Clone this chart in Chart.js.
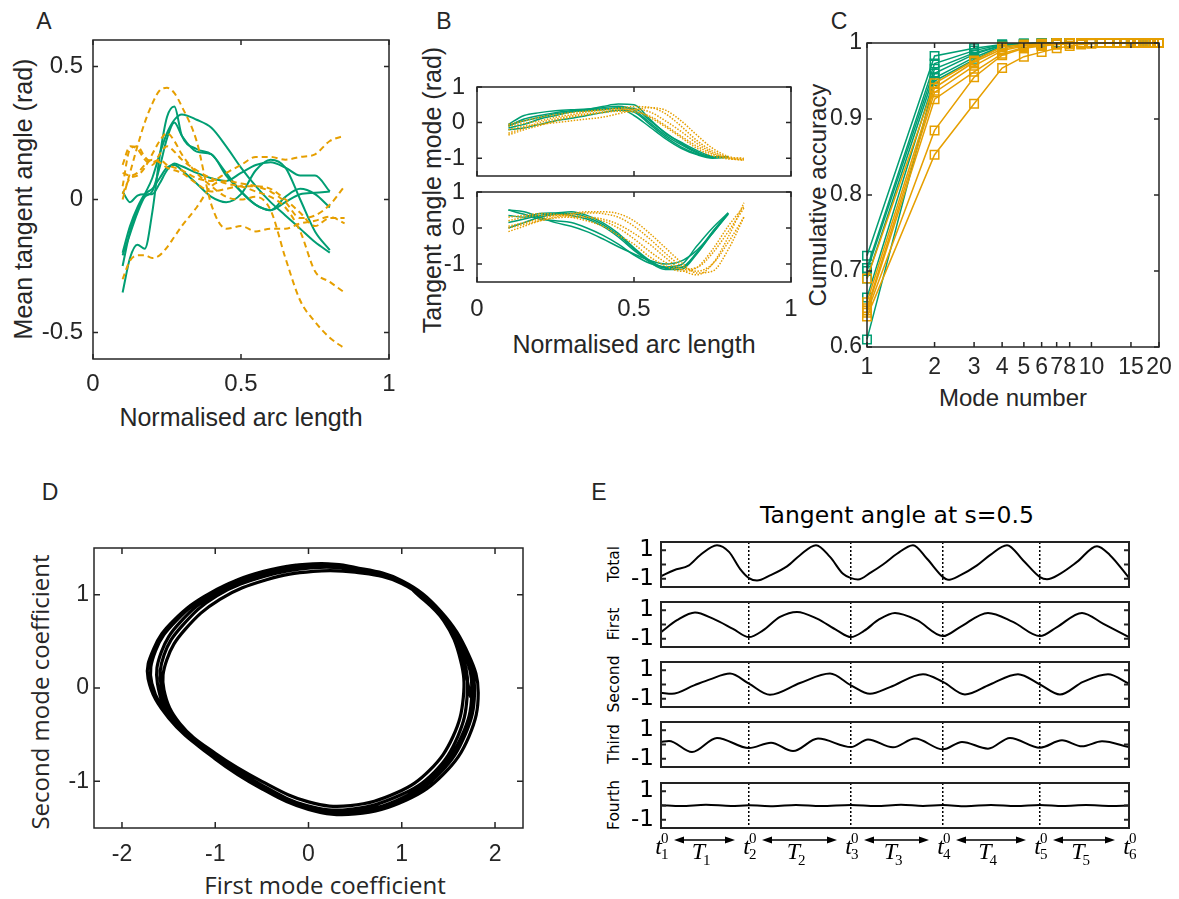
<!DOCTYPE html>
<html>
<head>
<meta charset="utf-8">
<script src="https://cdn.jsdelivr.net/npm/chart.js@4.4.1/dist/chart.umd.min.js"></script>
<style>
body{margin:0;background:#fff;width:1179px;height:899px;position:relative;overflow:hidden;font-family:'Liberation Sans',Arial,sans-serif;color:#262626}
canvas{position:absolute}
.t{position:absolute;white-space:nowrap;line-height:1;transform:translate(-50%,-50%)}
.v{transform:translate(-50%,-50%) rotate(-90deg)}
.dj{font-family:'DejaVu Sans',sans-serif;color:#000}
.os{font-family:'Open Sans',sans-serif}
</style>
</head>
<body>
<div class="t" style="left:44px;top:21px;font-size:23px">A</div>
<div class="t" style="left:444px;top:21px;font-size:23px">B</div>
<div class="t" style="left:839px;top:21px;font-size:23px">C</div>
<div class="t" style="left:50px;top:492px;font-size:23px">D</div>
<div class="t" style="left:599px;top:492px;font-size:23px">E</div>

<div class="t" style="left:241px;top:417px;font-size:25px">Normalised arc length</div>
<div class="t v" style="left:23px;top:199px;font-size:25px">Mean tangent angle (rad)</div>
<div class="t" style="left:634px;top:344px;font-size:25px">Normalised arc length</div>
<div class="t v" style="left:432px;top:190px;font-size:25px">Tangent angle mode (rad)</div>
<div class="t" style="left:1013px;top:398px;font-size:24px">Mode number</div>
<div class="t v" style="left:818px;top:195px;font-size:24px">Cumulative accuracy</div>
<div class="t os" style="left:325px;top:885px;font-size:24px">First mode coefficient</div>
<div class="t v os" style="left:40px;top:692px;font-size:24px">Second mode coefficient</div>

<div class="t dj" style="left:897px;top:516px;font-size:23.5px">Tangent angle at s=0.5</div>
<div class="t v dj" style="left:615px;top:564px;font-size:15.5px">Total</div>
<div class="t v dj" style="left:615px;top:624px;font-size:15.5px">First</div>
<div class="t v dj" style="left:615px;top:684px;font-size:15.5px">Second</div>
<div class="t v dj" style="left:615px;top:744px;font-size:15.5px">Third</div>
<div class="t v dj" style="left:615px;top:805px;font-size:15.5px">Fourth</div>

<canvas id="cA"></canvas>
<canvas id="cB1"></canvas>
<canvas id="cB2"></canvas>
<canvas id="cC"></canvas>
<canvas id="cD"></canvas>
<canvas id="cE1"></canvas>
<canvas id="cE2"></canvas>
<canvas id="cE3"></canvas>
<canvas id="cE4"></canvas>
<canvas id="cE5"></canvas>

<script>
/***** Data *****/
// A: mean tangent angle along the body
const aTealX = [0.10,0.125,0.15,0.175,0.20,0.225,0.25,0.275,0.30,0.35,0.40,0.45,0.50,0.55,0.60,0.65,0.70,0.75,0.80];
const aTeal = [
  [-0.35,-0.22,-0.17,-0.185,-0.05,0.16,0.31,0.35,0.24,0.19,0.17,0.10,0.03,-0.02,-0.04,-0.01,0.02,0.025,0.03],
  [-0.25,-0.12,-0.04,0.02,0.08,0.17,0.25,0.30,0.32,0.30,0.27,0.20,0.12,0.05,-0.01,-0.06,-0.11,-0.16,-0.20],
  [-0.21,-0.13,-0.05,0.01,0.03,0.12,0.23,0.29,0.24,0.18,0.17,0.09,0.03,-0.02,-0.04,0.01,0.04,0.02,-0.03],
  [0.03,-0.01,0.015,0.02,0.02,0.06,0.11,0.135,0.125,0.10,0.08,0.07,0.10,0.13,0.14,0.12,0.09,0.09,0.03],
  [-0.20,-0.10,-0.03,0.02,0.04,0.08,0.12,0.13,0.11,0.06,0.01,-0.01,0.02,0.11,0.15,0.12,0.00,-0.12,-0.19]
];
const aOrangeX = [0.10,0.125,0.15,0.175,0.20,0.225,0.25,0.275,0.30,0.35,0.40,0.45,0.50,0.55,0.60,0.65,0.70,0.75,0.80,0.85];
const aOrange = [
  [0.00,0.10,0.20,0.29,0.36,0.41,0.42,0.40,0.35,0.22,-0.02,-0.11,-0.10,-0.12,-0.11,-0.11,-0.09,-0.08,-0.065,-0.09],
  [0.05,0.19,0.20,0.16,0.14,0.15,0.13,0.12,0.11,0.08,0.07,0.10,0.13,0.16,0.16,0.15,0.16,0.17,0.22,0.24],
  [-0.30,-0.23,-0.21,-0.21,-0.22,-0.21,-0.18,-0.14,-0.10,-0.03,0.05,0.07,0.06,0.05,0.03,-0.01,-0.07,-0.06,-0.02,0.05],
  [0.02,0.08,0.09,0.12,0.17,0.22,0.25,0.22,0.17,0.10,0.05,0.01,0.00,0.01,-0.04,-0.22,-0.38,-0.46,-0.52,-0.56],
  [0.13,0.20,0.19,0.15,0.13,0.17,0.20,0.18,0.15,0.11,0.08,0.06,0.05,0.03,0.01,-0.03,-0.12,-0.27,-0.31,-0.35],
  [0.10,0.09,0.10,0.13,0.15,0.14,0.12,0.11,0.10,0.06,0.03,0.04,0.05,0.05,0.04,0.00,-0.05,-0.10,-0.07,-0.07]
];

// B: first and second tangent angle modes
const bTealX = [0.10,0.15,0.20,0.25,0.30,0.35,0.40,0.45,0.50,0.55,0.60,0.65,0.70,0.75,0.80];
const bOrangeX = [0.10,0.15,0.20,0.25,0.30,0.35,0.40,0.45,0.50,0.55,0.60,0.65,0.70,0.75,0.80,0.85];
const bMode1Teal = [
  [-0.05,0.20,0.28,0.33,0.36,0.38,0.42,0.46,0.35,0.00,-0.35,-0.62,-0.85,-0.97,-0.98],
  [-0.10,0.10,0.20,0.28,0.33,0.37,0.45,0.52,0.50,0.10,-0.30,-0.55,-0.78,-0.95,-0.97],
  [-0.20,-0.15,-0.05,0.05,0.12,0.20,0.28,0.35,0.30,-0.05,-0.40,-0.68,-0.88,-0.98,-0.95],
  [-0.08,0.05,0.15,0.25,0.30,0.35,0.38,0.40,0.20,-0.12,-0.45,-0.72,-0.90,-1.00,-0.97],
  [-0.15,-0.05,0.10,0.20,0.30,0.33,0.36,0.42,0.40,0.06,-0.28,-0.58,-0.82,-0.96,-0.96]
];
const bMode1Orange = [
  [-0.10,-0.02,0.05,0.15,0.22,0.30,0.35,0.40,0.45,0.43,0.25,-0.10,-0.50,-0.80,-0.98,-1.05],
  [-0.30,-0.15,0.00,0.10,0.18,0.25,0.30,0.35,0.38,0.30,0.05,-0.25,-0.58,-0.85,-1.00,-1.06],
  [-0.05,0.05,0.15,0.22,0.28,0.32,0.36,0.38,0.35,0.15,-0.12,-0.42,-0.72,-0.93,-1.02,-1.04],
  [-0.20,-0.10,-0.05,0.00,0.05,0.10,0.15,0.25,0.35,0.42,0.35,0.05,-0.35,-0.72,-0.95,-1.02],
  [-0.35,-0.20,-0.08,0.05,0.15,0.22,0.28,0.32,0.30,0.18,-0.08,-0.38,-0.66,-0.88,-0.98,-1.00]
];
const bMode2Teal = [
  [0.50,0.45,0.30,0.15,0.05,-0.10,-0.30,-0.52,-0.72,-0.90,-1.00,-0.92,-0.62,-0.15,0.40],
  [0.35,0.30,0.40,0.42,0.45,0.35,0.15,-0.15,-0.55,-0.90,-1.10,-1.10,-0.70,-0.12,0.42],
  [0.15,0.25,0.35,0.40,0.35,0.25,0.05,-0.25,-0.62,-0.92,-1.12,-1.10,-0.68,-0.10,0.40],
  [0.00,0.15,0.30,0.38,0.40,0.30,0.10,-0.20,-0.58,-0.95,-1.15,-1.15,-0.72,-0.15,0.38],
  [0.50,0.38,0.25,0.20,0.15,0.00,-0.20,-0.45,-0.75,-0.98,-1.08,-1.02,-0.50,0.00,0.42]
];
const bMode2Orange = [
  [-0.10,0.05,0.20,0.30,0.38,0.42,0.40,0.30,0.05,-0.30,-0.70,-1.05,-1.20,-1.00,-0.40,0.30],
  [0.05,0.15,0.25,0.35,0.40,0.45,0.45,0.40,0.20,-0.15,-0.55,-0.95,-1.25,-1.20,-0.60,0.30],
  [0.20,0.30,0.35,0.35,0.35,0.30,0.20,0.00,-0.30,-0.65,-0.95,-1.15,-1.10,-0.70,-0.10,0.55],
  [0.00,0.10,0.20,0.28,0.30,0.30,0.25,0.10,-0.15,-0.45,-0.82,-1.15,-1.30,-1.00,-0.25,0.70],
  [0.30,0.35,0.40,0.38,0.30,0.20,0.05,-0.20,-0.45,-0.80,-1.05,-1.20,-1.10,-0.60,0.05,0.60]
];

// C: cumulative accuracy per mode number
const cModes = [1,2,3,4,5,6,7,8,9,10,11,12,13,14,15,16,17,18,19,20];
const cTickVals = [1,2,3,4,5,6,7,8,10,15,20];
const cTeal = [
  [0.720,0.983,0.993,0.998,0.999,1,1,1,1,1,1,1,1,1,1,1,1,1,1,1],
  [0.704,0.973,0.990,0.998,0.999,1,1,1,1,1,1,1,1,1,1,1,1,1,1,1],
  [0.700,0.966,0.987,0.997,0.999,0.999,1,1,1,1,1,1,1,1,1,1,1,1,1,1],
  [0.690,0.960,0.985,0.997,0.999,0.999,1,1,1,1,1,1,1,1,1,1,1,1,1,1],
  [0.665,0.954,0.981,0.996,0.998,0.999,1,1,1,1,1,1,1,1,1,1,1,1,1,1],
  [0.610,0.950,0.978,0.995,0.998,0.999,1,1,1,1,1,1,1,1,1,1,1,1,1,1]
];
const cOrange = [
  [0.690,0.947,0.977,0.995,0.998,0.999,1,1,1,1,1,1,1,1,1,1,1,1,1,1],
  [0.659,0.941,0.975,0.992,0.997,0.999,0.999,1,1,1,1,1,1,1,1,1,1,1,1,1],
  [0.651,0.935,0.970,0.990,0.996,0.998,0.999,1,1,1,1,1,1,1,1,1,1,1,1,1],
  [0.648,0.926,0.962,0.986,0.994,0.997,0.998,0.999,1,1,1,1,1,1,1,1,1,1,1,1],
  [0.645,0.885,0.955,0.984,0.993,0.996,0.998,0.999,1,1,1,1,1,1,1,1,1,1,1,1],
  [0.640,0.853,0.920,0.967,0.982,0.988,0.993,0.996,0.998,0.999,1,1,1,1,1,1,1,1,1,1]
];

// D: trajectory in first/second mode coefficient space
const dFirst = [1.12,1.45,1.63,1.66,1.55,1.30,0.95,0.45,0.00,-0.50,-1.00,-1.38,-1.55,-1.52,-1.33,-0.95,-0.45,0.05,0.50,
  1.00,1.40,1.68,1.75,1.65,1.40,1.00,0.45,-0.05,-0.55,-1.05,-1.50,-1.72,-1.66,-1.45,-1.05,-0.50,0.05,0.50,
  1.00,1.42,1.72,1.82,1.72,1.45,1.05,0.50,0.00,-0.50,-1.00,-1.45,-1.68,-1.64,-1.42,-1.02,-0.48,0.10,0.55,
  1.02,1.42,1.66,1.70,1.60,1.35,0.98,0.45,-0.02,-0.52,-1.02,-1.42,-1.58,-1.55,-1.36,-0.98,-0.46,0.05,0.50,
  1.00,1.40,1.70,1.78,1.68,1.42,1.02,0.48,-0.02,-0.52,-1.02,-1.46,-1.62,-1.58,-1.38,-1.00,-0.47,0.08,0.55,
  1.00,1.38,1.62,1.74];
const dSecond = [1.05,0.72,0.30,-0.10,-0.52,-0.88,-1.12,-1.26,-1.22,-1.00,-0.70,-0.38,-0.02,0.30,0.62,0.95,1.16,1.25,1.24,
  1.12,0.80,0.35,-0.08,-0.50,-0.88,-1.18,-1.33,-1.28,-1.05,-0.72,-0.32,0.10,0.42,0.72,1.02,1.24,1.33,1.29,
  1.15,0.82,0.35,-0.05,-0.52,-0.92,-1.20,-1.35,-1.30,-1.08,-0.76,-0.36,0.05,0.40,0.72,1.03,1.25,1.33,1.28,
  1.12,0.78,0.32,-0.10,-0.52,-0.90,-1.15,-1.30,-1.26,-1.03,-0.72,-0.36,0.02,0.35,0.66,0.99,1.20,1.29,1.27,
  1.13,0.80,0.34,-0.06,-0.50,-0.90,-1.18,-1.32,-1.28,-1.05,-0.74,-0.34,0.05,0.38,0.70,1.01,1.22,1.31,1.27,
  1.12,0.82,0.40,-0.10];

// E: tangent angle at s=0.5 over time, [time, value]
const periodBounds = [0, 88, 190, 282, 379, 468];
const eTotal = [[0,-0.82],[13,-0.4],[28,-0.06],[39,0.65],[56,1.35],[68,0.88],[79,-0.3],[88,-0.95],[96,-1.12],[109,-0.76],
  [126,-0.13],[139,0.65],[155,1.35],[169,0.53],[182,-0.65],[190,-0.95],[197,-1.05],[210,-0.55],[222,0.0],[236,0.75],
  [252,1.35],[266,0.4],[282,-0.88],[287,-1.07],[299,-0.76],[316,-0.06],[329,0.65],[346,1.35],[362,0.3],[379,-0.88],
  [386,-1.03],[399,-0.65],[416,0.18],[436,1.28],[449,0.65],[468,-0.93]];
const eFirst = [[0,-0.53],[16,0.3],[34,0.84],[52,0.41],[72,-0.3],[88,-0.88],[102,-0.41],[119,0.53],[136,0.88],[156,0.41],
  [176,-0.41],[190,-0.88],[203,-0.45],[218,0.35],[234,0.8],[256,0.3],[282,-0.81],[299,-0.18],[327,0.81],[352,0.18],
  [379,-0.81],[396,-0.18],[421,0.81],[442,0.06],[468,-0.88]];
const eSecond = [[0,-0.58],[11,-0.65],[33,-0.06],[49,0.36],[69,0.76],[88,0.06],[109,-0.72],[139,0.1],[169,0.76],[190,-0.06],
  [209,-0.65],[229,-0.18],[262,0.72],[282,0.18],[304,-0.7],[329,0.0],[357,0.72],[379,0.0],[399,-0.7],[422,0.18],
  [447,0.72],[468,0.06]];
const eThird = [[0,0.18],[8,0.25],[31,-0.53],[56,0.46],[88,-0.25],[110,0.13],[132,-0.46],[157,0.41],[190,-0.18],[207,0.35],
  [232,-0.2],[254,0.41],[282,-0.34],[301,0.18],[327,-0.29],[349,0.46],[379,-0.22],[401,0.29],[421,-0.13],[441,0.22],
  [468,-0.18]];
const eFourth = [[0,0.02],[20,-0.04],[45,0.05],[70,-0.03],[88,0.01],[112,-0.05],[135,0.04],[160,-0.04],[190,0.03],[215,-0.04],
  [240,0.05],[262,-0.03],[282,0.03],[305,-0.05],[330,0.04],[355,-0.03],[379,0.04],[402,-0.03],[425,0.03],[450,-0.03],
  [468,0.0]];

/***** Style *****/
const TEAL = '#009E73', ORANGE = '#E69F00', AX = '#262626';
const SANS = "'Liberation Sans', Arial, sans-serif";
const DJV = "'DejaVu Sans', sans-serif";
const SERIF = "'Liberation Serif', 'DejaVu Serif', serif";

// Matlab-like box with inward ticks on all sides
const boxTicks = {
  id: 'boxTicks',
  afterDatasetsDraw(chart, args, o) {
    const {ctx, chartArea: a, scales: {x, y}} = chart;
    ctx.save();
    ctx.strokeStyle = o.color; ctx.lineWidth = o.width; ctx.setLineDash([]);
    ctx.beginPath();
    if (o.xTicks) x.ticks.forEach(t => {
      const p = x.getPixelForValue(t.value);
      ctx.moveTo(p, a.bottom); ctx.lineTo(p, a.bottom - o.len);
      ctx.moveTo(p, a.top); ctx.lineTo(p, a.top + o.len);
    });
    y.ticks.forEach(t => {
      const p = y.getPixelForValue(t.value);
      ctx.moveTo(a.left, p); ctx.lineTo(a.left + o.len, p);
      ctx.moveTo(a.right, p); ctx.lineTo(a.right - o.len, p);
    });
    ctx.stroke();
    ctx.strokeRect(a.left, a.top, a.right - a.left, a.bottom - a.top);
    ctx.restore();
  }
};

// t_i^0 labels and T_i arrows under panel E
const periodMarks = {
  id: 'periodMarks',
  afterDraw(chart) {
    const {ctx, chartArea: a, scales: {x}} = chart;
    const px = periodBounds.map(v => x.getPixelForValue(v));
    const yArrow = a.bottom + 12, yBase = a.bottom + 26;
    ctx.save();
    ctx.fillStyle = '#000'; ctx.strokeStyle = '#000'; ctx.lineWidth = 1.3;
    ctx.textBaseline = 'alphabetic';
    px.forEach((p, i) => {
      ctx.font = 'italic 24px ' + SERIF; ctx.textAlign = 'right';
      ctx.fillText('t', p + 1, yBase);
      ctx.font = '15px ' + SERIF; ctx.textAlign = 'left';
      ctx.fillText('0', p, yBase - 11);
      ctx.fillText(String(i + 1), p, yBase + 5);
      if (i < px.length - 1) {
        const x1 = p + 13, x2 = px[i + 1] - 14;
        ctx.beginPath(); ctx.moveTo(x1 + 6, yArrow); ctx.lineTo(x2 - 6, yArrow); ctx.stroke();
        ctx.beginPath();
        ctx.moveTo(x1, yArrow); ctx.lineTo(x1 + 10, yArrow - 3.5); ctx.lineTo(x1 + 10, yArrow + 3.5); ctx.closePath();
        ctx.moveTo(x2, yArrow); ctx.lineTo(x2 - 10, yArrow - 3.5); ctx.lineTo(x2 - 10, yArrow + 3.5); ctx.closePath();
        ctx.fill();
        const mid = (p + px[i + 1]) / 2;
        ctx.font = 'italic 24px ' + SERIF; ctx.textAlign = 'right';
        ctx.fillText('T', mid, yBase + 5);
        ctx.font = '15px ' + SERIF; ctx.textAlign = 'left';
        ctx.fillText(String(i + 1), mid - 2, yBase + 11);
      }
    });
    ctx.restore();
  }
};

function axis(min, max, ticks, size, showLabels, pad, family, fmt) {
  return {
    type: 'linear', min: min, max: max,
    afterBuildTicks: s => { s.ticks = ticks.map(v => ({value: v})); },
    grid: {display: false, drawTicks: false},
    border: {display: false},
    ticks: {display: showLabels, padding: pad, autoSkip: false, maxRotation: 0, color: AX,
      font: {family: family || SANS, size: size}, callback: fmt || (v => String(v))}
  };
}

function series(xs, ys, color, width, dash) {
  return {
    data: xs.map((x, i) => ({x: x, y: ys[i]})),
    borderColor: color, borderWidth: width, borderDash: dash,
    pointRadius: 0, fill: false, cubicInterpolationMode: 'monotone', clip: false
  };
}

function makeChart(id, box, pad, config) {
  const cv = document.getElementById(id);
  cv.width = box.r - box.l + pad.l + pad.r;
  cv.height = box.b - box.t + pad.t + pad.b;
  cv.style.left = (box.l - pad.l) + 'px';
  cv.style.top = (box.t - pad.t) + 'px';
  const o = config.options;
  o.responsive = false;
  o.animation = false;
  o.devicePixelRatio = 1;
  o.layout = {padding: {top: pad.t, right: pad.r, left: 0, bottom: 0}};
  o.plugins = Object.assign({legend: {display: false}, tooltip: {enabled: false}}, o.plugins || {});
  o.scales.x.afterFit = s => { s.height = pad.b; s.paddingLeft = 0; s.paddingRight = 0; s.paddingTop = 0; s.paddingBottom = 0; };
  o.scales.y.afterFit = s => { s.width = pad.l; s.paddingLeft = 0; s.paddingRight = 0; s.paddingTop = 0; s.paddingBottom = 0; };
  return new Chart(cv, config);
}

const matBox = {color: AX, width: 1.5, len: 5, xTicks: true};

/***** A *****/
makeChart('cA', {l: 93, t: 40, r: 389, b: 359}, {l: 90, t: 20, r: 25, b: 50}, {
  type: 'line',
  data: {datasets: [
    ...aOrange.map(s => series(aOrangeX, s, ORANGE, 2, [6, 4])),
    ...aTeal.map(s => series(aTealX, s, TEAL, 2, []))
  ]},
  options: {
    scales: {x: axis(0, 1, [0, 0.5, 1], 24, true, 11), y: axis(-0.6, 0.6, [-0.5, 0, 0.5], 24, true, 10)},
    plugins: {boxTicks: matBox}
  },
  plugins: [boxTicks]
});

/***** B *****/
makeChart('cB1', {l: 477, t: 87, r: 791, b: 176}, {l: 75, t: 16, r: 20, b: 10}, {
  type: 'line',
  data: {datasets: [
    ...bMode1Orange.map(s => series(bOrangeX, s, ORANGE, 1.5, [1.5, 1.5])),
    ...bMode1Teal.map(s => series(bTealX, s, TEAL, 1.5, []))
  ]},
  options: {
    scales: {x: axis(0, 1, [0, 0.5, 1], 24, false, 13), y: axis(-1.5, 1, [-1, 0, 1], 24, true, 12)},
    plugins: {boxTicks: matBox}
  },
  plugins: [boxTicks]
});
makeChart('cB2', {l: 477, t: 192, r: 791, b: 282}, {l: 75, t: 16, r: 25, b: 45}, {
  type: 'line',
  data: {datasets: [
    ...bMode2Orange.map(s => series(bOrangeX, s, ORANGE, 1.5, [1.5, 1.5])),
    ...bMode2Teal.map(s => series(bTealX, s, TEAL, 1.5, []))
  ]},
  options: {
    scales: {x: axis(0, 1, [0, 0.5, 1], 24, true, 13), y: axis(-1.5, 1, [-1, 0, 1], 24, true, 12)},
    plugins: {boxTicks: matBox}
  },
  plugins: [boxTicks]
});

/***** C *****/
const cX = axis(1, 20, cTickVals, 23, true, 7);
cX.type = 'logarithmic';
makeChart('cC', {l: 867, t: 43, r: 1159, b: 347}, {l: 70, t: 20, r: 20, b: 40}, {
  type: 'line',
  data: {datasets: [
    ...cOrange.map(s => Object.assign(series(cModes, s, ORANGE, 1.5, []),
      {cubicInterpolationMode: 'default', tension: 0, pointStyle: 'rect', pointRadius: 6, pointBorderWidth: 1.5,
       pointBorderColor: ORANGE, pointBackgroundColor: 'rgba(0,0,0,0)'})),
    ...cTeal.map(s => Object.assign(series(cModes, s, TEAL, 1.5, []),
      {cubicInterpolationMode: 'default', tension: 0, pointStyle: 'rect', pointRadius: 6, pointBorderWidth: 1.5,
       pointBorderColor: TEAL, pointBackgroundColor: 'rgba(0,0,0,0)'}))
  ]},
  options: {
    scales: {x: cX, y: axis(0.6, 1, [0.6, 0.7, 0.8, 0.9, 1], 23, true, 5, SANS, v => String(+v.toFixed(1)))},
    plugins: {boxTicks: matBox}
  },
  plugins: [boxTicks]
});

/***** D *****/
makeChart('cD', {l: 94, t: 548, r: 523, b: 828}, {l: 70, t: 20, r: 20, b: 45}, {
  type: 'scatter',
  data: {datasets: [{
    data: dFirst.map((v, i) => ({x: v, y: dSecond[i]})),
    showLine: true, tension: 0.4, borderColor: '#000', borderWidth: 3.2, pointRadius: 0, fill: false
  }]},
  options: {
    scales: {x: axis(-2.3, 2.3, [-2, -1, 0, 1, 2], 23, true, 13), y: axis(-1.5, 1.5, [-1, 0, 1], 23, true, 5)},
    plugins: {boxTicks: {color: AX, width: 1.5, len: 6, xTicks: true}}
  },
  plugins: [boxTicks]
});

/***** E *****/
const eRows = [eTotal, eFirst, eSecond, eThird, eFourth];
const eTops = [542, 602, 662, 722, 783];
eRows.forEach((row, i) => {
  const last = i === eRows.length - 1;
  const ex = {
    type: 'linear', min: 0, max: 468,
    afterBuildTicks: s => { s.ticks = periodBounds.map(v => ({value: v})); },
    grid: {display: true, drawOnChartArea: true, drawTicks: false, color: '#000', lineWidth: 1.5},
    border: {display: false, dash: [2, 2]},
    ticks: {display: false}
  };
  const ey = axis(-1.57, 1.57, [-1, 0, 1], 23, true, 7, DJV, v => v === 0 ? '' : String(v));
  ey.ticks.color = '#000';
  makeChart('cE' + (i + 1), {l: 661, t: eTops[i], r: 1129, b: eTops[i] + 45},
    {l: 50, t: 12, r: last ? 15 : 10, b: last ? 45 : 12}, {
    type: 'line',
    data: {datasets: [{
      data: row.map(p => ({x: p[0], y: p[1]})),
      borderColor: '#000', borderWidth: 2, pointRadius: 0, fill: false, cubicInterpolationMode: 'monotone'
    }]},
    options: {
      scales: {x: ex, y: ey},
      plugins: {boxTicks: {color: '#222', width: 2, len: 5, xTicks: false}}
    },
    plugins: last ? [boxTicks, periodMarks] : [boxTicks]
  });
});
</script>
</body>
</html>
